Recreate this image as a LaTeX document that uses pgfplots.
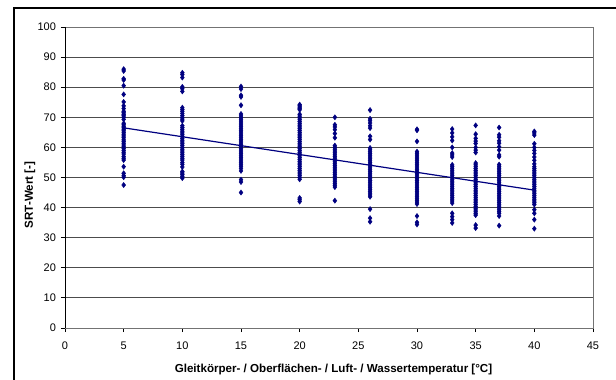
\documentclass[border=0pt]{standalone}
\usepackage{fontspec}
\setmainfont{Liberation Sans}
\usepackage{pgfplots}
\pgfplotsset{compat=1.18}
\definecolor{navy}{RGB}{0,0,128}
\begin{document}
\fontsize{10}{12}\selectfont
\begin{tikzpicture}[x=1pt,y=1pt]
\useasboundingbox (-65,-52) rectangle (551,328);
\draw[line width=2.3pt] (-51.2,-60) -- (-51.2,320.2) -- (560,320.2);
\begin{axis}[
  at={(0,0)}, anchor=south west,
  scale only axis, width=528pt, height=301pt,
  xmin=0, xmax=45, ymin=0, ymax=100,
  xtick={0,5,...,45}, ytick={0,10,...,100},
  xtick pos=bottom, ytick pos=left,
  tick align=outside, major tick length=4pt,
  tick style={black, line width=0.8pt},
  ymajorgrids, grid style={black!70, line width=0.8pt},
  axis line style={black!55, line width=0.8pt},
  /pgf/number format/assume math mode=true,
  ticklabel style={font=\fontsize{11}{13}\selectfont},
  xticklabel style={yshift=-6.5pt},
  yticklabel style={xshift=-1.5pt},
]
\draw[black, line width=0.8pt] (axis cs:0,100) -- (axis cs:0,0) -- (axis cs:45,0);
\addplot[only marks, mark=diamond*, mark size=2.6pt, color=navy] coordinates {
(5,86.0) (5,85.4) (5,82.8) (5,82.4) (5,80.5) (5,77.6) (5,75.1) (5,73.8) (5,72.9) (5,72.0) (5,71.5) (5,71.0) (5,70.5) (5,70.0) (5,69.3) (5,68.0) (5,67.5) (5,67.0) (5,66.5) (5,66.0) (5,65.5) (5,65.0) (5,64.4) (5,63.8) (5,63.2) (5,62.5) (5,62.0) (5,61.4) (5,60.8) (5,60.2) (5,59.6) (5,59.0) (5,58.4) (5,57.8) (5,57.0) (5,56.4) (5,55.8) (5,53.6) (5,51.4) (5,50.6) (5,50.1) (5,47.5)
(10,84.8) (10,84.2) (10,83.2) (10,80.1) (10,79.5) (10,78.6) (10,73.2) (10,72.6) (10,72.0) (10,71.3) (10,70.6) (10,70.0) (10,69.4) (10,68.8) (10,67.2) (10,66.6) (10,66.0) (10,65.4) (10,64.8) (10,64.2) (10,63.6) (10,63.0) (10,62.4) (10,61.8) (10,61.2) (10,60.6) (10,60.0) (10,59.4) (10,58.8) (10,58.2) (10,57.6) (10,57.0) (10,56.4) (10,55.8) (10,55.0) (10,54.4) (10,53.5) (10,52.0) (10,51.5) (10,51.0) (10,50.4) (10,49.8)
(15,80.2) (15,79.4) (15,77.3) (15,76.8) (15,74.0) (15,71.1) (15,70.5) (15,69.9) (15,69.3) (15,68.7) (15,68.1) (15,67.5) (15,66.9) (15,66.3) (15,65.7) (15,65.1) (15,64.5) (15,63.9) (15,63.3) (15,62.7) (15,62.1) (15,61.5) (15,60.9) (15,60.3) (15,59.7) (15,59.1) (15,58.5) (15,57.9) (15,57.3) (15,56.7) (15,56.1) (15,55.5) (15,54.9) (15,54.3) (15,53.7) (15,53.0) (15,52.2) (15,49.3) (15,48.5) (15,45.0)
(20,74.2) (20,73.8) (20,73.4) (20,73.0) (20,72.5) (20,71.0) (20,70.4) (20,69.8) (20,69.2) (20,68.6) (20,68.0) (20,67.4) (20,66.8) (20,66.2) (20,65.6) (20,65.0) (20,64.4) (20,63.8) (20,63.2) (20,62.6) (20,62.0) (20,61.4) (20,60.8) (20,60.2) (20,59.6) (20,59.0) (20,58.4) (20,57.8) (20,57.2) (20,56.6) (20,56.0) (20,55.4) (20,54.8) (20,54.2) (20,53.6) (20,53.0) (20,52.4) (20,51.8) (20,51.2) (20,50.6) (20,50.0) (20,49.4) (20,43.2) (20,42.6) (20,42.0)
(23,70.0) (23,67.5) (23,66.8) (23,65.9) (23,64.6) (23,63.2) (23,60.6) (23,60.0) (23,59.4) (23,58.8) (23,58.2) (23,57.6) (23,57.0) (23,56.4) (23,55.8) (23,55.2) (23,54.6) (23,54.0) (23,53.4) (23,52.8) (23,52.2) (23,51.6) (23,51.0) (23,50.4) (23,49.8) (23,49.2) (23,48.6) (23,48.0) (23,47.4) (23,46.8) (23,42.3)
(26,72.4) (26,69.5) (26,68.9) (26,68.1) (26,67.2) (26,66.4) (26,63.7) (26,62.6) (26,59.8) (26,59.2) (26,58.6) (26,58.0) (26,57.4) (26,56.8) (26,56.2) (26,55.6) (26,55.0) (26,54.4) (26,53.8) (26,53.2) (26,52.6) (26,52.0) (26,51.4) (26,50.8) (26,50.2) (26,49.6) (26,49.0) (26,48.4) (26,47.8) (26,47.2) (26,46.6) (26,46.0) (26,45.4) (26,44.8) (26,44.2) (26,43.6) (26,39.5) (26,36.5) (26,35.3)
(30,66.0) (30,65.7) (30,62.0) (30,58.6) (30,58.0) (30,57.4) (30,56.8) (30,56.2) (30,55.6) (30,55.0) (30,54.4) (30,53.8) (30,53.2) (30,52.6) (30,52.0) (30,51.4) (30,50.8) (30,50.2) (30,49.6) (30,49.0) (30,48.4) (30,47.8) (30,47.2) (30,46.6) (30,46.0) (30,45.4) (30,44.8) (30,44.2) (30,43.6) (30,43.0) (30,42.4) (30,41.8) (30,41.2) (30,37.2) (30,35.1) (30,34.4)
(33,66.1) (33,64.8) (33,63.5) (33,62.3) (33,60.0) (33,58.1) (33,57.5) (33,56.8) (33,54.2) (33,53.6) (33,53.0) (33,52.4) (33,51.8) (33,51.2) (33,50.6) (33,50.0) (33,49.4) (33,48.8) (33,48.2) (33,47.6) (33,47.0) (33,46.4) (33,45.8) (33,45.2) (33,44.6) (33,44.0) (33,43.4) (33,42.8) (33,42.2) (33,41.5) (33,38.1) (33,37.0) (33,36.0) (33,34.9)
(35,67.3) (35,64.4) (35,63.0) (35,62.1) (35,61.3) (35,60.0) (35,59.1) (35,58.3) (35,54.8) (35,54.2) (35,53.6) (35,53.0) (35,52.4) (35,51.8) (35,51.2) (35,50.6) (35,50.0) (35,49.4) (35,48.8) (35,48.2) (35,47.6) (35,47.0) (35,46.4) (35,45.8) (35,45.2) (35,44.6) (35,44.0) (35,43.4) (35,42.8) (35,42.2) (35,41.6) (35,41.0) (35,40.4) (35,39.8) (35,39.2) (35,38.6) (35,38.0) (35,37.5) (35,34.2) (35,33.2)
(37,66.6) (37,64.2) (37,63.4) (37,62.2) (37,61.4) (37,60.2) (37,59.1) (37,57.5) (37,56.9) (37,54.3) (37,53.7) (37,53.1) (37,52.5) (37,51.9) (37,51.3) (37,50.7) (37,50.1) (37,49.5) (37,48.9) (37,48.3) (37,47.7) (37,47.1) (37,46.5) (37,45.9) (37,45.3) (37,44.7) (37,44.1) (37,43.5) (37,42.9) (37,42.3) (37,41.7) (37,41.1) (37,40.5) (37,39.9) (37,39.3) (37,38.7) (37,38.1) (37,37.2) (37,34.0)
(40,65.3) (40,64.8) (40,64.1) (40,61.2) (40,60.0) (40,59.0) (40,58.0) (40,56.8) (40,55.7) (40,54.5) (40,53.6) (40,53.0) (40,52.4) (40,51.8) (40,51.2) (40,50.6) (40,50.0) (40,49.4) (40,48.8) (40,48.2) (40,47.6) (40,47.0) (40,46.4) (40,45.8) (40,45.2) (40,44.6) (40,44.0) (40,43.4) (40,42.8) (40,42.2) (40,41.6) (40,41.0) (40,39.3) (40,38.1) (40,36.0) (40,33.0)
};
\addplot[navy, line width=1.2pt, no marks] coordinates {(5,66.5) (40,45.8)};
\end{axis}
\node[font=\bfseries\fontsize{11.6}{13}\selectfont] at (268.5,-41.5) {Gleitkörper- / Oberflächen- / Luft- / Wassertemperatur [°C]};
\node[font=\bfseries\fontsize{11.6}{13}\selectfont, rotate=90] at (-35,133) {SRT-Wert [-]};
\end{tikzpicture}
\end{document}
